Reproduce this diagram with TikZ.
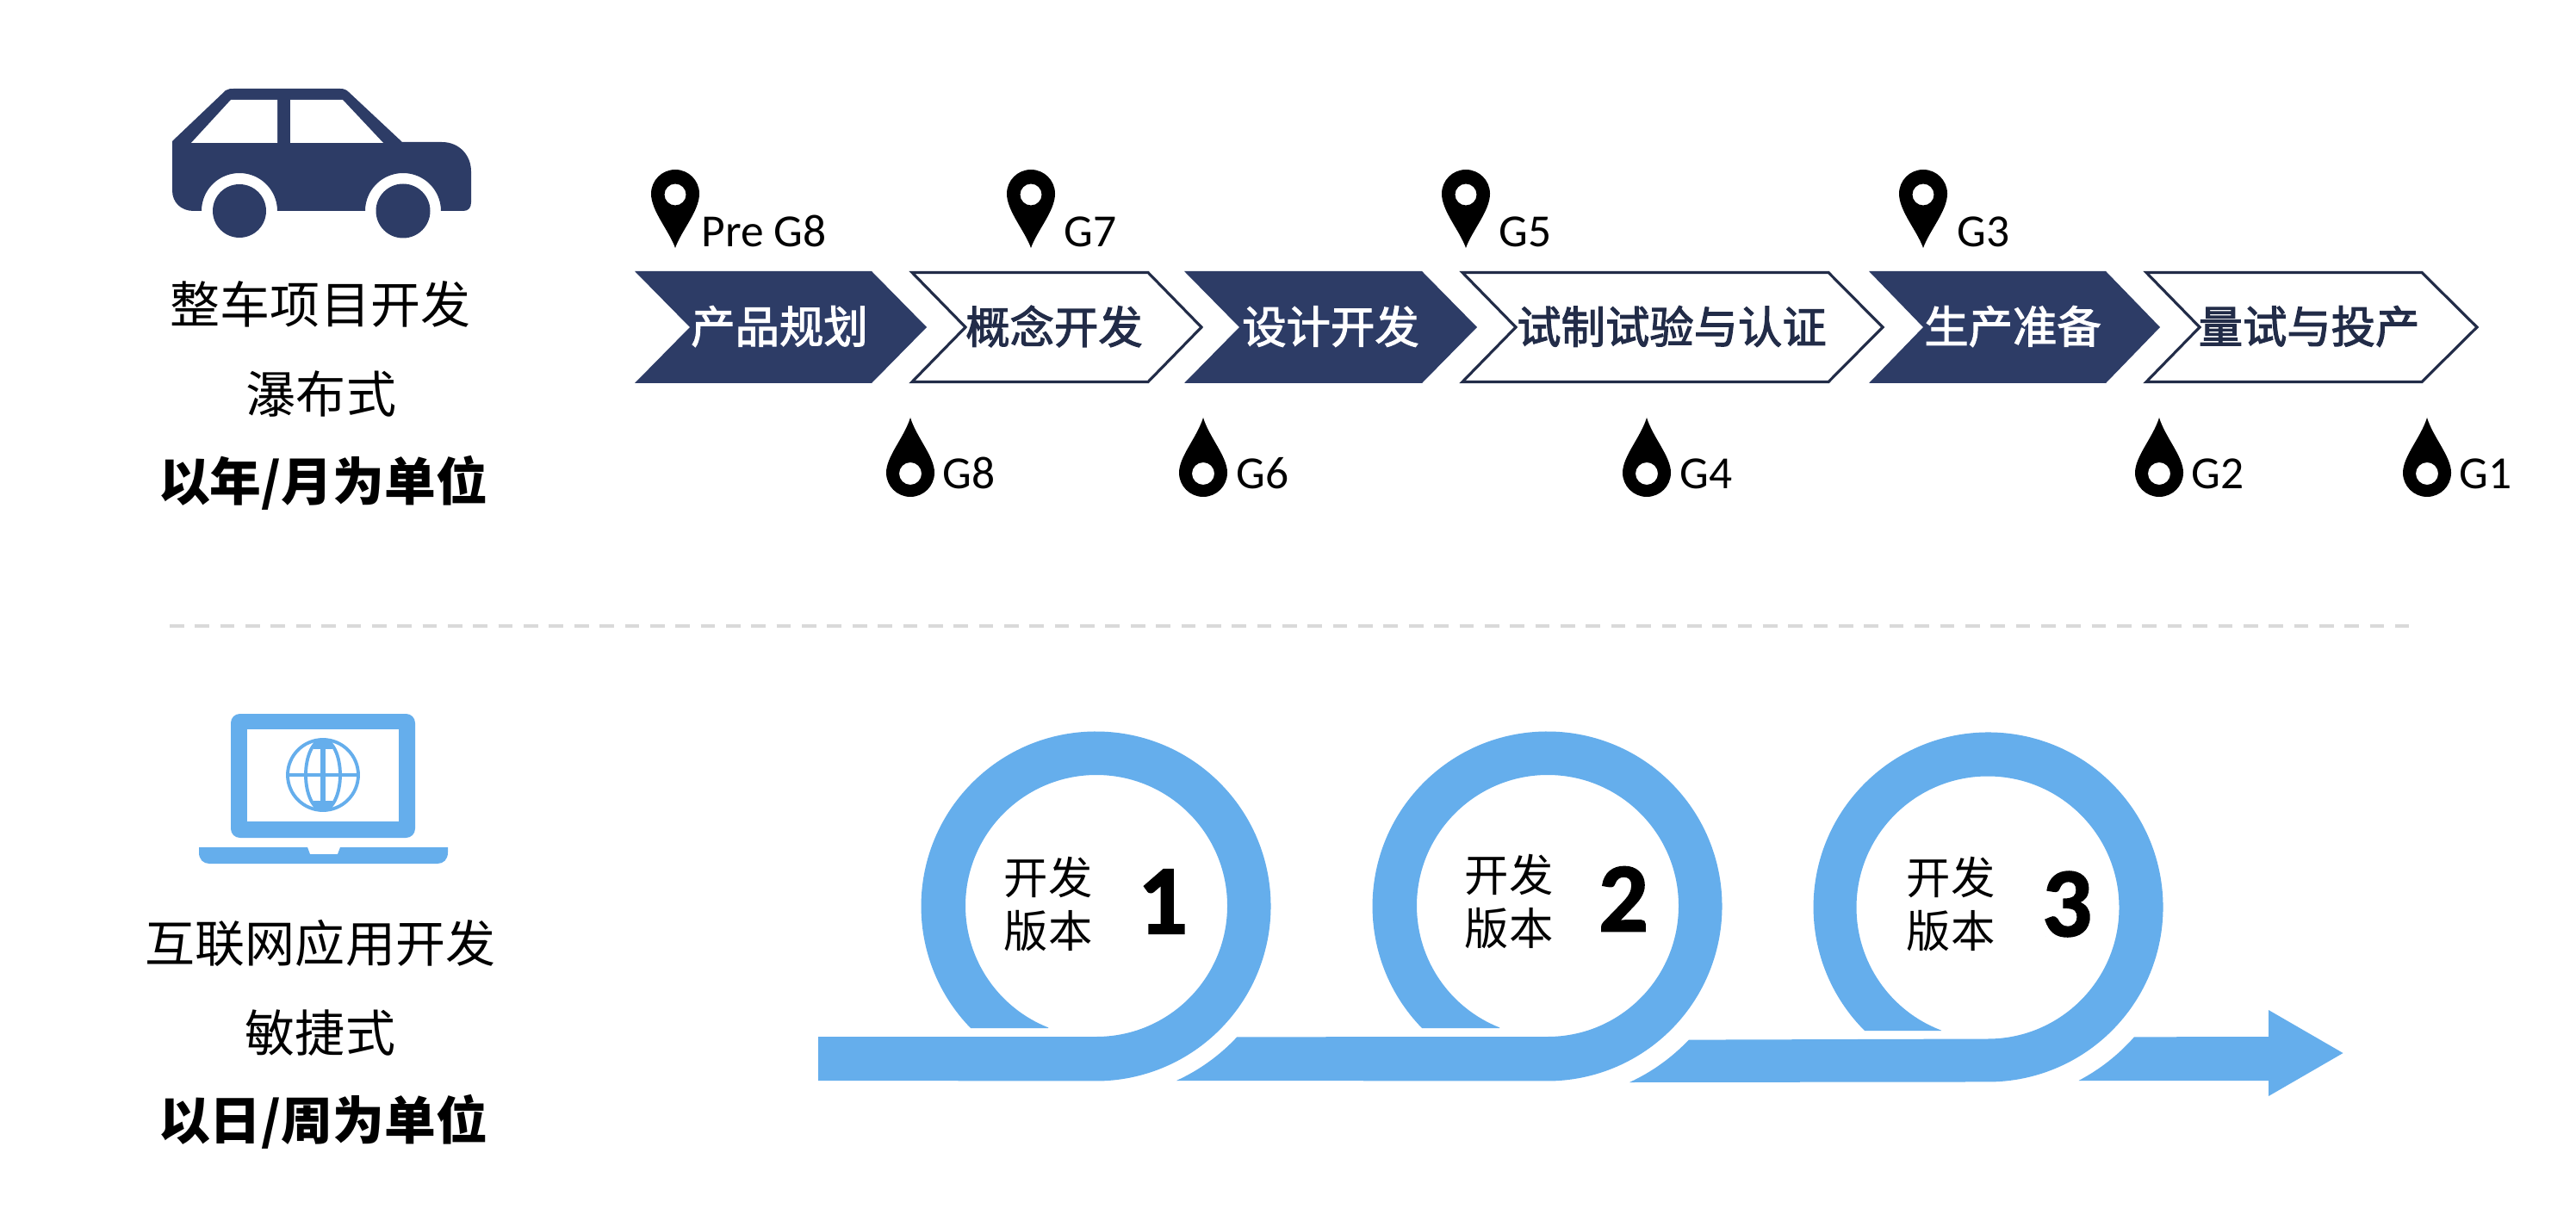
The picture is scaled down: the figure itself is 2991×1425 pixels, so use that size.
\documentclass[tikz,border=0pt]{standalone}
\usepackage{fontspec}
\setmainfont{Noto Sans CJK SC}
\newfontfamily\latinf{Carlito}
\newfontfamily\numf[BoldFeatures={FakeBold=1.6}]{Carlito}
\newfontfamily\fakebf[FakeBold=2.2]{Noto Sans CJK SC}
\definecolor{navy}{HTML}{2D3C66}
\definecolor{navyd}{HTML}{222C48}
\definecolor{sky}{HTML}{65AEEC}
\definecolor{dashg}{HTML}{D9D9D9}
\tikzset{
  chevfill/.style={fill=navy,draw=none},
  chevline/.style={fill=white,draw=navyd,line width=0.9pt},
  chevtxtw/.style={text=white,font=\fontsize{14.6pt}{16pt}\fakebf,inner sep=0pt},
  chevtxtn/.style={text=navyd,font=\fontsize{14.6pt}{16pt}\fakebf,inner sep=0pt},
  sidetxt/.style={font=\fontsize{16.5pt}{18pt}\selectfont,inner sep=0pt,text=black},
  sidebold/.style={font=\fontsize{17pt}{18pt}\bfseries,inner sep=0pt,text=black},
  gatetxt/.style={font=\fontsize{15.2pt}{17pt}\latinf,inner sep=0pt,anchor=base west,text=black},
  vertxt/.style={font=\fontsize{14.6pt}{17.4pt}\selectfont,inner sep=0pt,align=center,text=black},
  numtxt/.style={font=\fontsize{32.5pt}{34pt}\numf\bfseries,inner sep=0pt,text=black},
  ribbon/.style={fill=sky,draw=none},
  icondark/.style={fill=navy,draw=none},
  iconsky/.style={fill=sky,draw=none}
}
\newcommand{\chevfull}[4]{\path[chevfill] (#1,315) -- (#3,315) -- (#4,380) -- (#3,445) -- (#1,445) -- (#2,380) -- cycle;}
\newcommand{\chevopen}[4]{\path[chevline] (#1+3,316.5) -- (#3,316.5) -- (#4,380) -- (#3,443.5) -- (#1+3,443.5) -- (#2,380) -- cycle;}
\newcommand{\pinmark}[1]{%
  \fill[black,even odd rule] (#1,288) .. controls (#1-7,268) and (#1-28,245) .. (#1-28,225)
    arc[start angle=180,end angle=360,radius=28]
    .. controls (#1+28,245) and (#1+7,268) .. (#1,288) -- cycle
    (#1+12.5,226) arc[start angle=0,end angle=360,radius=12.5];}
\newcommand{\dropmark}[1]{%
  \fill[black,even odd rule] (#1,485) .. controls (#1+7,508) and (#1+28,530) .. (#1+28,549)
    arc[start angle=0,end angle=180,radius=28]
    .. controls (#1-28,530) and (#1-7,508) .. (#1,485) -- cycle
    (#1+13,550) arc[start angle=0,end angle=360,radius=13];}
\begin{document}
\begin{tikzpicture}[x=0.01cm,y=0.01cm,yscale=-1]
\useasboundingbox (0,0) rectangle (2991,1425);
\fill[white] (0,0) rectangle (2991,1425);
% car
\path[icondark] (200,164) -- (262,105) .. controls (265,103) and (268,103) .. (272,103) -- (395,103)
  .. controls (399,103) and (402,104) .. (405,107) -- (467,165) -- (513,165)
  .. controls (533,165) and (547,180) .. (547,199) -- (547,235)
  .. controls (547,241) and (544,245) .. (538,245) -- (512,245)
  arc[start angle=0,end angle=-180,radius=44] -- (322,245)
  arc[start angle=0,end angle=-180,radius=44] -- (225,245)
  .. controls (210,245) and (200,235) .. (200,221) -- cycle;
\fill[white] (222,166) -- (268,116) -- (322,116) -- (322,166) -- cycle;
\fill[white] (337,116) -- (398,116) -- (445,166) -- (337,166) -- cycle;
\path[icondark] (278,245) circle[radius=31];
\path[icondark] (468,245) circle[radius=31.5];
% left labels
\node[sidetxt] (t1) at (372,353) {整车项目开发};
\node[sidetxt] (t2) at (373,458) {瀑布式};
\node[sidebold] (t3) at (375,561) {以年/月为单位};
\node[sidetxt] (t4) at (372,1095) {互联网应用开发};
\node[sidetxt] (t5) at (372,1200) {敏捷式};
\node[sidebold] (t6) at (375,1303) {以日/周为单位};
% pins and gates
\pinmark{784}\pinmark{1197}\pinmark{1702}\pinmark{2233}
\node[gatetxt] (g0) at (814,287) {Pre G8};
\node[gatetxt] (g7) at (1235,287) {G7};
\node[gatetxt] (g5) at (1740,287) {G5};
\node[gatetxt] (g3) at (2272,287) {G3};
\dropmark{1057}\dropmark{1397}\dropmark{1912}\dropmark{2507}\dropmark{2818}
\node[gatetxt] (g8) at (1094,568) {G8};
\node[gatetxt] (g6) at (1435,568) {G6};
\node[gatetxt] (g4) at (1950,568) {G4};
\node[gatetxt] (g2) at (2544,568) {G2};
\node[gatetxt] (g1) at (2855,568) {G1};
% chevrons
\chevfull{737}{801}{1012}{1076}
\chevopen{1056}{1121}{1333}{1395}
\chevfull{1375}{1439}{1651}{1715}
\chevopen{1695}{1760}{2123}{2186}
\chevfull{2170}{2233}{2445}{2508}
\chevopen{2489}{2554}{2812}{2876}
\node[chevtxtw] (c1) at (905,379) {产品规划};
\node[chevtxtn] (c2) at (1224,379) {概念开发};
\node[chevtxtw] (c3) at (1545,379) {设计开发};
\node[chevtxtn] (c4) at (1941,379) {试制试验与认证};
\node[chevtxtw] (c5) at (2337,379) {生产准备};
\node[chevtxtn] (c6) at (2681,379) {量试与投产};
% divider
\draw[dashg,line width=1.3pt,dash pattern=on 4.75pt off 3.6pt] (197,727) -- (2797,727);
% laptop
\path[iconsky,rounded corners=3pt] (268,829) rectangle (482,973);
\fill[white] (287,847) rectangle (463,954);
\path[iconsky] (231,984) -- (357,984) -- (360,992) -- (392,992) -- (395,984) -- (520,984) -- (520,990)
  .. controls (520,998) and (515,1003) .. (508,1003) -- (243,1003)
  .. controls (236,1003) and (231,998) .. (231,990) -- cycle;
\draw[sky,line width=1.1pt] (375,900) circle[radius=41];
\draw[sky,line width=1.1pt] (375,900) ellipse[x radius=20,y radius=41];
\draw[sky,line width=1.1pt] (334,900) -- (416,900);
\draw[sky,line width=1.9pt] (375,860) -- (375,940);
\fill[sky] (364,859) rectangle (386,870);
\fill[sky] (364,930) rectangle (386,941);
% ribbon
\path[ribbon] (950,1204) -- (1273,1204)
  arc[start angle=90,end angle=-248.5,radius=152] -- (1217,1194) -- (1127,1194)
  arc[start angle=-224.2,end angle=90,radius=203] -- (950,1255) -- cycle;
\path[ribbon] (1366,1255) arc[start angle=65.4,end angle=43,radius=223] -- (1797,1204)
  arc[start angle=90,end angle=-248.5,radius=152] -- (1741,1194) -- (1651,1194)
  arc[start angle=-224.2,end angle=90,radius=203] -- cycle;
\path[ribbon] (1892,1257) arc[start angle=65.2,end angle=43.5,radius=225] -- (2308,1206.5)
  arc[start angle=90,end angle=-249.2,radius=152.5] -- (2254,1197) -- (2165,1197)
  arc[start angle=-225,end angle=90,radius=203] -- cycle;
\path[ribbon] (2413.5,1255) arc[start angle=62.3,end angle=41.4,radius=226] -- (2634,1204)
  -- (2634,1173) -- (2720.5,1223) -- (2634,1273) -- (2634,1255) -- cycle;
% version labels
\node[vertxt] (v1) at (1217,1050) {开发\\版本};
\node[vertxt] (v2) at (1752,1047) {开发\\版本};
\node[vertxt] (v3) at (2265,1050) {开发\\版本};
\node[numtxt] (n1) at (1350,1047) {1};
\node[numtxt] (n2) at (1885,1044) {2};
\node[numtxt] (n3) at (2400,1050) {3};
\end{tikzpicture}
\end{document}
